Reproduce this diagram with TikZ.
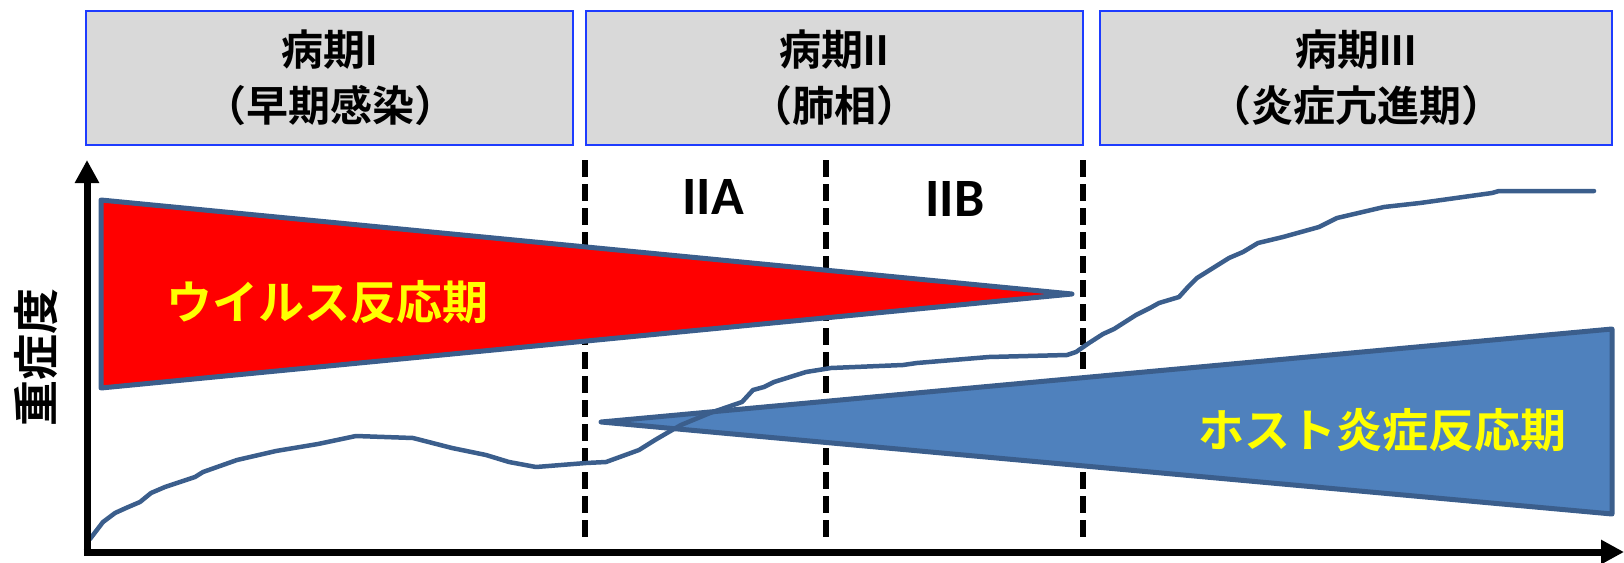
\documentclass[tikz,border=0pt]{standalone}
\usepackage{fontspec}
\usetikzlibrary{arrows.meta}
\newfontfamily\cjk{Noto Sans CJK JP}[BoldFont={Noto Sans CJK JP Bold}]
\newfontfamily\lat{Carlito}
\definecolor{boxgray}{RGB}{217,217,217}
\definecolor{boxblue}{RGB}{30,60,255}
\definecolor{edgeblue}{RGB}{59,94,140}
\definecolor{fillblue}{RGB}{79,129,189}
\definecolor{vred}{RGB}{255,0,0}
\definecolor{vyellow}{RGB}{255,255,0}
\tikzset{
  hdrbox/.style={draw=boxblue,line width=2pt,fill=boxgray},
  hdrtext/.style={font=\cjk\bfseries\fontsize{42}{46}\selectfont,align=center,inner sep=0pt},
  phaselabel/.style={font=\lat\bfseries\fontsize{54}{58}\selectfont,inner sep=0pt},
  bandlabel/.style={font=\cjk\bfseries\fontsize{46}{50}\selectfont,text=vyellow,inner sep=0pt},
  axis/.style={line width=7pt,-{Triangle[length=23pt,width=23pt]}},
  divider/.style={line width=6pt,dash pattern=on 17pt off 7pt},
  band/.style={draw=edgeblue,line width=5pt,line join=round},
  course/.style={draw=edgeblue,line width=4.5pt,line join=round,line cap=round}
}
\newcommand{\stagenum}[1]{{\lat\bfseries\fontsize{46}{46}\selectfont #1}}
\begin{document}
\begin{tikzpicture}[x=1pt,y=-1pt]
\useasboundingbox (0,0) rectangle (1624,562);
% header boxes
\draw[hdrbox] (86,11) rectangle (573,145);
\draw[hdrbox] (586,11) rectangle (1083,145);
\draw[hdrbox] (1100,11) rectangle (1612,145);
\node[hdrtext] (h1a) at (330,50) {病期\stagenum{I}};
\node[hdrtext] (h1b) at (330,106) {（早期感染）};
\node[hdrtext] (h2a) at (834,50) {病期\stagenum{II}};
\node[hdrtext] (h2b) at (834,106) {（肺相）};
\node[hdrtext] (h3a) at (1356,50) {病期\stagenum{III}};
\node[hdrtext] (h3b) at (1356,106) {（炎症亢進期）};
% dashed dividers
\coordinate (d1t) at (585,160); \coordinate (d1b) at (585,541);
\coordinate (d2t) at (826,160); \coordinate (d2b) at (826,541);
\coordinate (d3t) at (1083,160); \coordinate (d3b) at (1083,541);
\draw[divider] (d1t) -- (d1b);
\draw[divider] (d2t) -- (d2b);
\draw[divider] (d3t) -- (d3b);
\node[phaselabel] (iia) at (713,197) {IIA};
\node[phaselabel] (iib) at (955,199) {IIB};
% virus band
\draw[band,fill=vred] (101,200) -- (1072,294) -- (101,388) -- cycle;
% host band
\draw[band,fill=fillblue] (601,422) -- (1612,329) -- (1612,514) -- cycle;
% severity course
\draw[course] (90,539) -- (103,522) -- (115,513) -- (126,508) -- (140,502) -- (151,493)
  -- (165,487) -- (180,482) -- (195,477) -- (203,472) -- (237,460) -- (276,451)
  -- (318,444) -- (356,436) -- (413,438) -- (452,448) -- (486,455) -- (509,462)
  -- (536,467) -- (586,463) -- (606,462) -- (639,450) -- (655,440) -- (667,433)
  -- (681,425) -- (710,413) -- (742,402) -- (753,390) -- (764,387) -- (774,382)
  -- (806,372) -- (831,368) -- (903,365) -- (917,363) -- (989,357) -- (1067,355)
  -- (1076,352) -- (1089,343) -- (1103,334) -- (1114,329) -- (1136,315) -- (1150,308)
  -- (1159,303) -- (1179,297) -- (1188,287) -- (1197,278) -- (1229,258) -- (1243,252)
  -- (1258,243) -- (1283,237) -- (1319,227) -- (1337,218) -- (1384,207) -- (1420,203)
  -- (1492,193) -- (1499,191) -- (1594,191);
\node[bandlabel] (vlab) at (327,302) {ウイルス反応期};
\node[bandlabel] (hlab) at (1382,430) {ホスト炎症反応期};
% axes
\coordinate (o) at (87,552);
\coordinate (ytop) at (87,160);
\coordinate (xend) at (1624,552);
\draw[axis] ([yshift=3.5pt]o) -- (ytop);
\draw[axis] ([xshift=-3.5pt]o) -- (xend);
\node[font=\cjk\bfseries\fontsize{46}{50}\selectfont,rotate=90,inner sep=0pt] (ylab) at (36,357) {重症度};
\end{tikzpicture}
\end{document}
